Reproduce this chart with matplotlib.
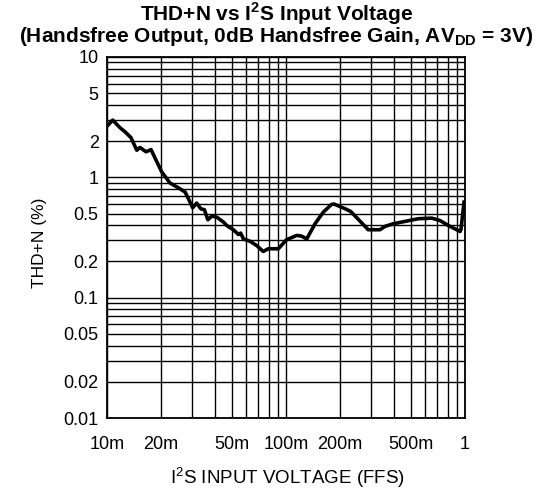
import numpy as np
import matplotlib
matplotlib.use("Agg")
import matplotlib.pyplot as plt
from matplotlib.ticker import FixedLocator, NullFormatter, LogLocator

plt.rcParams['font.family'] = ['Liberation Sans', 'DejaVu Sans']
plt.rcParams['mathtext.fontset'] = 'custom'
plt.rcParams['mathtext.rm'] = 'Liberation Sans'
plt.rcParams['mathtext.bf'] = 'Liberation Sans:bold'

# THD+N curve (input in FFS, THD+N in %)
vin = [0.0100, 0.01076, 0.0118, 0.0126, 0.0136, 0.01467, 0.01528, 0.01652, 0.01762,
       0.01879, 0.02023, 0.0225, 0.025, 0.0273, 0.0285, 0.0301, 0.0317, 0.0334,
       0.0350, 0.0366, 0.0385, 0.0410, 0.0447, 0.0466, 0.0508, 0.0542, 0.0558,
       0.0578, 0.0630, 0.0686, 0.0746, 0.0796, 0.0906, 0.1007, 0.1147, 0.1220,
       0.1306, 0.1452, 0.1616, 0.1798, 0.1854, 0.214, 0.230, 0.259, 0.288, 0.335,
       0.357, 0.397, 0.472, 0.548, 0.652, 0.724, 0.807, 0.938, 0.950, 0.987]
thdn = [2.66, 2.99, 2.59, 2.39, 2.14, 1.68, 1.77, 1.63, 1.70,
        1.39, 1.107, 0.896, 0.82, 0.755, 0.664, 0.559, 0.611, 0.548,
        0.538, 0.444, 0.476, 0.467, 0.425, 0.398, 0.367, 0.335, 0.344,
        0.308, 0.294, 0.271, 0.242, 0.255, 0.255, 0.303, 0.329, 0.325,
        0.308, 0.411, 0.514, 0.596, 0.600, 0.548, 0.52, 0.433, 0.367, 0.367,
        0.391, 0.411, 0.433, 0.453, 0.458, 0.438, 0.398, 0.355, 0.37, 0.622]

x_ticks = [0.01, 0.02, 0.05, 0.1, 0.2, 0.5, 1]
x_labels = ['10m', '20m', '50m', '100m', '200m', '500m', '1']
y_ticks = [0.01, 0.02, 0.05, 0.1, 0.2, 0.5, 1, 2, 5, 10]
y_labels = ['0.01', '0.02', '0.05', '0.1', '0.2', '0.5', '1', '2', '5', '10']

fig = plt.figure(figsize=(5.53, 4.90), dpi=100)
ax = fig.add_axes([0.1935, 0.1469, 0.6474, 0.7368])

ax.plot(vin, thdn, color='black', linewidth=2.6, solid_joinstyle='round')

ax.set_xscale('log')
ax.set_yscale('log')
ax.set_xlim(0.01, 1)
ax.set_ylim(0.01, 10)

ax.xaxis.set_major_locator(FixedLocator(x_ticks))
ax.set_xticklabels(x_labels)
ax.yaxis.set_major_locator(FixedLocator(y_ticks))
ax.set_yticklabels(y_labels)
ax.xaxis.set_minor_locator(LogLocator(base=10, subs=np.arange(1, 10)))
ax.yaxis.set_minor_locator(LogLocator(base=10, subs=np.arange(1, 10)))
ax.xaxis.set_minor_formatter(NullFormatter())
ax.yaxis.set_minor_formatter(NullFormatter())

ax.grid(True, which='both', color='black', linewidth=1.0)
ax.tick_params(which='both', length=0, labelsize=13)
ax.tick_params(axis='x', pad=13)
ax.tick_params(axis='y', pad=6)
for s in ax.spines.values():
    s.set_linewidth(1.3)

ax.set_xlabel(r'I$^2$S INPUT VOLTAGE (FFS)', fontsize=13.5, va='center')
ax.set_ylabel('THD+N (%)', fontsize=12.5, va='center')
ax.xaxis.set_label_coords(0.505, -0.166)
ax.yaxis.set_label_coords(-0.188, 0.485)

title = (r'THD+N vs I$^\mathbf{2}$S Input Voltage' + '\n' +
         r'(Handsfree Output, 0dB Handsfree Gain, AV$_\mathbf{DD}$ = 3V)')
fig.text(0.5, 1.0, title, ha='center', va='top', multialignment='center',
         fontsize=15, fontweight='bold', linespacing=0.88)

fig.savefig('out.png', dpi=100)
